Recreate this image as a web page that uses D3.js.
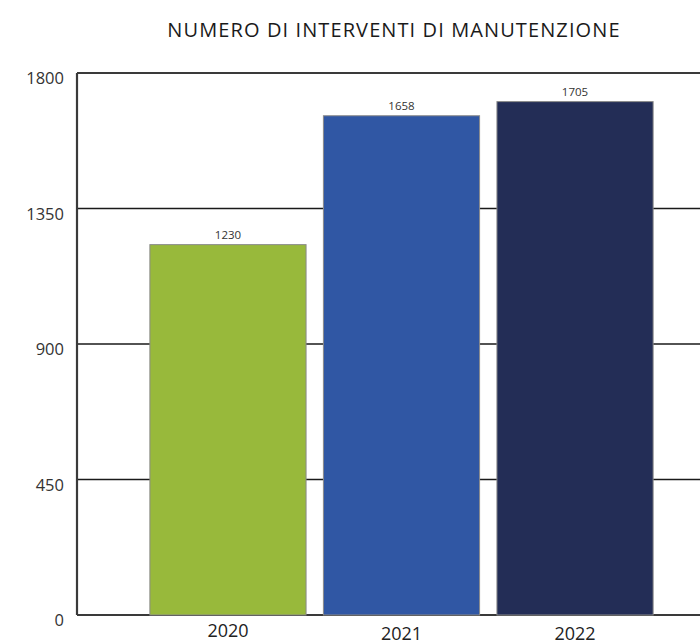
<!DOCTYPE html>
<html>
<head>
<meta charset="utf-8">
<script src="https://cdn.jsdelivr.net/npm/d3@7"></script>
<style>
  body { margin: 0; background: #fff; }
  text { font-family: "Open Sans", "DejaVu Sans", sans-serif; }
</style>
</head>
<body>
<script>
'use strict';

// chart data
const years = ["2020", "2021", "2022"];
const interventi = [1230, 1658, 1705];
const barColors = ["#98b93b", "#3057a4", "#232d56"];
const yTicks = [0, 450, 900, 1350, 1800];
const title = "NUMERO DI INTERVENTI DI MANUTENZIONE";

const width = 700, height = 644;

const svg = d3.select('body')
  .append('svg')
  .attr('width', width)
  .attr('height', height);

// scales
let x = d3.scaleBand()
  .domain(years)
  .range([77, 726])
  .paddingInner(0.1)
  .paddingOuter(0.42);

let y = d3.scaleLinear()
  .domain([0, 1800])
  .range([615, 73]);

// horizontal grid lines (behind bars)
svg.append('g')
  .selectAll('line')
  .data(yTicks)
  .enter()
  .append('line')
  .attr('x1', 77)
  .attr('x2', width)
  .attr('y1', d => y(d))
  .attr('y2', d => y(d))
  .attr('stroke', d => (d === 0 || d === 1800) ? '#3a3a3a' : '#1a1a1a')
  .attr('stroke-width', d => (d === 0 || d === 1800) ? 2.2 : 1.6);

// left axis line
svg.append('line')
  .attr('x1', 77).attr('x2', 77)
  .attr('y1', y(1800)).attr('y2', y(0))
  .attr('stroke', '#3a3a3a')
  .attr('stroke-width', 2.2);

// y tick labels
svg.append('g')
  .selectAll('text')
  .data(yTicks)
  .enter()
  .append('text')
  .attr('x', 64)
  .attr('y', d => y(d) + 11)
  .attr('text-anchor', 'end')
  .style('font-size', '16.5px')
  .attr('fill', '#333')
  .text(d => d);

// bars
svg.append('g')
  .selectAll('rect')
  .data(interventi)
  .enter()
  .append('rect')
  .attr('x', (d, i) => x(years[i]))
  .attr('y', d => y(d))
  .attr('width', x.bandwidth())
  .attr('height', d => y(0) - y(d))
  .attr('fill', (d, i) => barColors[i])
  .attr('stroke', '#8a8a8a')
  .attr('stroke-width', 1);

// value labels
svg.append('g')
  .selectAll('text')
  .data(interventi)
  .enter()
  .append('text')
  .attr('x', (d, i) => x(years[i]) + x.bandwidth() / 2)
  .attr('y', d => y(d) - 6)
  .attr('text-anchor', 'middle')
  .style('font-size', '11.5px')
  .attr('fill', '#333')
  .text(d => d);

// year labels
svg.append('g')
  .selectAll('text')
  .data(years)
  .enter()
  .append('text')
  .attr('x', d => x(d) + x.bandwidth() / 2)
  .attr('y', (d, i) => i === 0 ? 637 : 640)
  .attr('text-anchor', 'middle')
  .style('font-size', '18px')
  .attr('fill', '#222')
  .text(d => d);

// title
svg.append('text')
  .attr('x', 394)
  .attr('y', 37)
  .attr('text-anchor', 'middle')
  .style('font-size', '20px')
  .style('letter-spacing', '1.1px')
  .style('font-weight', '500')
  .attr('fill', '#1a1a1a')
  .text(title);
</script>
</body>
</html>
